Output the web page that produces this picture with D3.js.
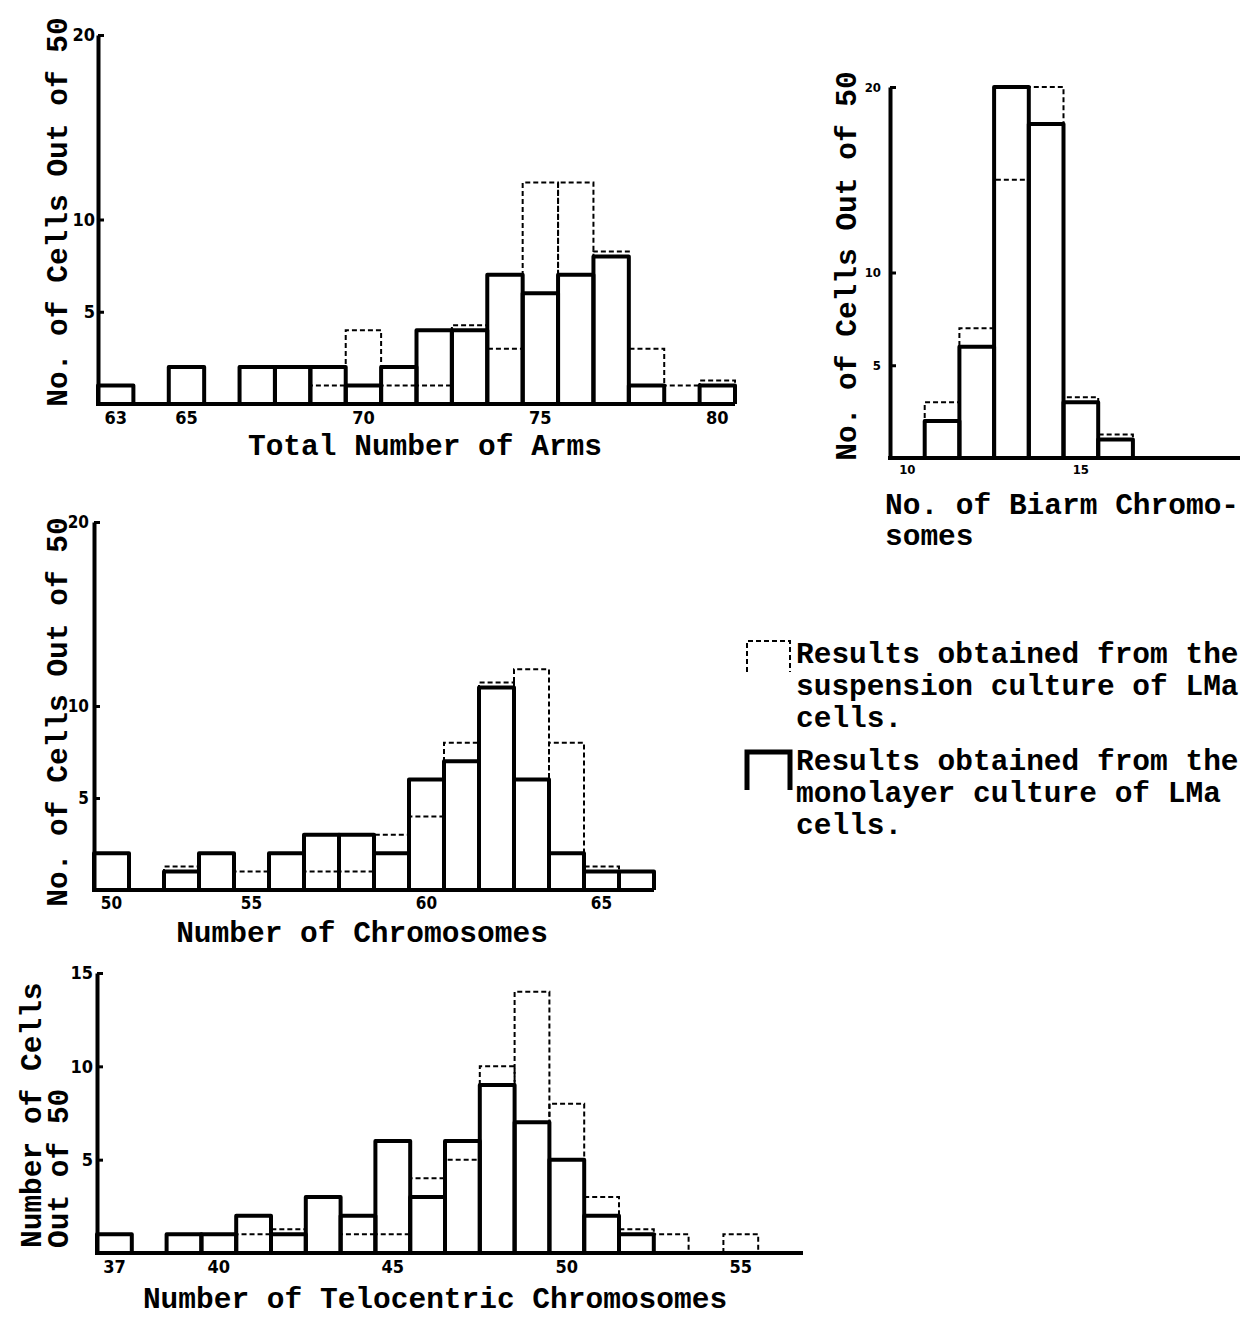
<!DOCTYPE html>
<html>
<head>
<meta charset="utf-8">
<script src="https://cdn.jsdelivr.net/npm/d3@7/dist/d3.min.js"></script>
<style>
  body { margin: 0; background: #fff; }
  .lab { font-family: "Liberation Mono", "Courier New", monospace; font-size: 29.5px; font-weight: bold; fill: #000; }
  .tk text { font-family: "Liberation Sans Narrow", "DejaVu Sans Condensed", sans-serif; font-weight: bold; fill: #000; }
</style>
</head>
<body>
<svg id="fig" width="1244" height="1317"></svg>
<script>
// --- data (cells out of 50) ---
const armsBins = [63,64,65,66,67,68,69,70,71,72,73,74,75,76,77,78,79,80]
const armsMono = [1,0,2,0,2,2,2,1,2,4,4,7,6,7,8,1,0,1]
const armsSusp = [0,0,0,0,0,0,1,4,1,1,4,3,12,12,8,3,1,1]
const armsTicks = [63,65,70,75,80]

const biarmBins = [10,11,12,13,14,15,16,17,18,19]
const biarmMono = [0,2,6,20,18,3,1,0,0,0]
const biarmSusp = [0,3,7,15,20,3,1,0,0,0]
const biarmTicks = [10,15]

const chromBins = [51,52,53,54,55,56,57,58,59,60,61,62,63,64,65,66]
const chromMono = [2,0,1,2,0,2,3,3,2,6,7,11,6,2,1,1]
const chromSusp = [0,0,1,0,1,0,1,1,3,4,8,11,12,8,1,0]
const chromTickAt = [51,55,60,65]
const chromTickText = ['50','55','60','65']

const teloBins = [37,38,39,40,41,42,43,44,45,46,47,48,49,50,51,52,53,54,55,56]
const teloMono = [1,0,1,1,2,1,3,2,6,3,6,9,7,5,2,1,0,0,0,0]
const teloSusp = [0,0,0,0,1,1,0,1,1,4,5,10,14,8,3,1,1,0,1,0]
const teloTicks = [37,40,45,50,55]

const svg = d3.select('#fig')

function drawHist(c){
  const g = svg.append('g')
  const x = d3.scaleBand().domain(c.bins).range([c.x0, c.x1])
  const y = d3.scaleLinear().domain([0, c.yMax]).range([c.yBase, c.yTop])
  const rows = c.bins.map((b, i) => ({bin: b, mono: c.mono[i], susp: c.susp[i]}))
  const outline = (d, v, lift) => {
    const xa = x(d.bin), xb = x(d.bin) + x.bandwidth()
    return `M${xa},${c.yBase}V${y(v) - lift}H${xb}V${c.yBase}`
  }
  // suspension culture: dashed outline (drawn a little above when equal)
  g.selectAll('path.susp').data(rows.filter(d => d.susp > 0)).enter()
    .append('path').attr('class', 'susp')
    .attr('d', d => outline(d, d.susp, d.susp === d.mono ? 5 : 0))
    .attr('fill', 'none').attr('stroke', '#000')
    .attr('stroke-width', 2).attr('stroke-dasharray', '5,3')
  // monolayer culture: heavy outline
  g.selectAll('path.mono').data(rows.filter(d => d.mono > 0)).enter()
    .append('path').attr('class', 'mono')
    .attr('d', d => outline(d, d.mono, 0))
    .attr('fill', 'none').attr('stroke', '#000')
    .attr('stroke-width', 4).attr('stroke-linejoin', 'round')
  // baseline
  g.append('line')
    .attr('x1', c.x0 - 2).attr('x2', c.xEnd)
    .attr('y1', c.yBase).attr('y2', c.yBase)
    .attr('stroke', '#000').attr('stroke-width', 4)
  // y axis
  const ya = g.append('g').attr('class', 'tk')
    .attr('transform', `translate(${c.x0},0)`)
    .call(d3.axisLeft(y).tickValues(c.yTicks).tickSize(-6).tickSizeOuter(0).tickPadding(c.yPad))
  ya.select('.domain').attr('stroke-width', 4)
  ya.selectAll('.tick line').attr('stroke-width', 3)
  ya.selectAll('text').attr('font-size', c.tkSize).attr('font-weight', c.tkWeight)
  // x tick labels
  const xa = g.append('g').attr('class', 'tk')
    .attr('transform', `translate(0,${c.yBase})`)
    .call(d3.axisBottom(x).tickValues(c.xTicks).tickFormat((d, i) => c.xText[i]).tickSize(0).tickPadding(c.xPad))
  xa.select('.domain').remove()
  xa.selectAll('text').attr('font-size', c.tkSize).attr('font-weight', c.tkWeight)
}

drawHist({bins: armsBins, mono: armsMono, susp: armsSusp, xTicks: armsTicks, xText: armsTicks.map(String),
  x0: 98, x1: 735, xEnd: 735, yBase: 404, yTop: 35, yMax: 20, yTicks: [5,10,20],
  yPad: 3, xPad: 7, tkSize: 18, tkWeight: 'bold'})
drawHist({bins: biarmBins, mono: biarmMono, susp: biarmSusp, xTicks: biarmTicks, xText: biarmTicks.map(String),
  x0: 890, x1: 1237, xEnd: 1240, yBase: 458, yTop: 87, yMax: 20, yTicks: [5,10,20],
  yPad: 9, xPad: 7, tkSize: 13, tkWeight: 'bold'})
drawHist({bins: chromBins, mono: chromMono, susp: chromSusp, xTicks: chromTickAt, xText: chromTickText,
  x0: 94, x1: 654, xEnd: 654, yBase: 890, yTop: 522, yMax: 20, yTicks: [5,10,20],
  yPad: 5, xPad: 7, tkSize: 17, tkWeight: 'bold'})
drawHist({bins: teloBins, mono: teloMono, susp: teloSusp, xTicks: teloTicks, xText: teloTicks.map(String),
  x0: 97, x1: 793, xEnd: 803, yBase: 1253, yTop: 973, yMax: 15, yTicks: [5,10,15],
  yPad: 4, xPad: 7, tkSize: 18, tkWeight: 'normal'})

// axis titles
function label(txt, x, y, anchor, rot){
  svg.append('text').attr('class', 'lab').text(txt)
    .attr('text-anchor', anchor)
    .attr('transform', `translate(${x},${y})` + (rot ? ' rotate(-90)' : ''))
}
label('No. of Cells Out of 50', 67, 212, 'middle', true)
label('Total Number of Arms', 425, 455, 'middle')
label('No. of Cells Out of 50', 856, 266, 'middle', true)
label('No. of Biarm Chromo-', 885, 514, 'start')
label('somes', 885, 545, 'start')
label('No. of Cells Out of 50', 67, 712, 'middle', true)
label('Number of Chromosomes', 362, 942, 'middle')
label('Number of Cells', 41, 1248, 'start', true)
label('Out of 50', 68, 1248, 'start', true)
label('Number of Telocentric Chromosomes', 435, 1308, 'middle')

// legend
const legend = [
  {lines: ['Results obtained from the', 'suspension culture of LMa', 'cells.'], y: 663, dash: '5,3', w: 2, top: 641, bot: 672},
  {lines: ['Results obtained from the', 'monolayer culture of LMa', 'cells.'], y: 770, dash: null, w: 5, top: 752, bot: 790}
]
legend.forEach(l => {
  svg.append('path').attr('d', `M747,${l.bot}V${l.top}H790V${l.bot}`)
    .attr('fill', 'none').attr('stroke', '#000').attr('stroke-width', l.w)
    .attr('stroke-dasharray', l.dash)
  l.lines.forEach((t, i) => {
    svg.append('text').attr('class', 'lab').attr('x', 796).attr('y', l.y + i * 32).text(t)
  })
})
</script>
</body>
</html>
